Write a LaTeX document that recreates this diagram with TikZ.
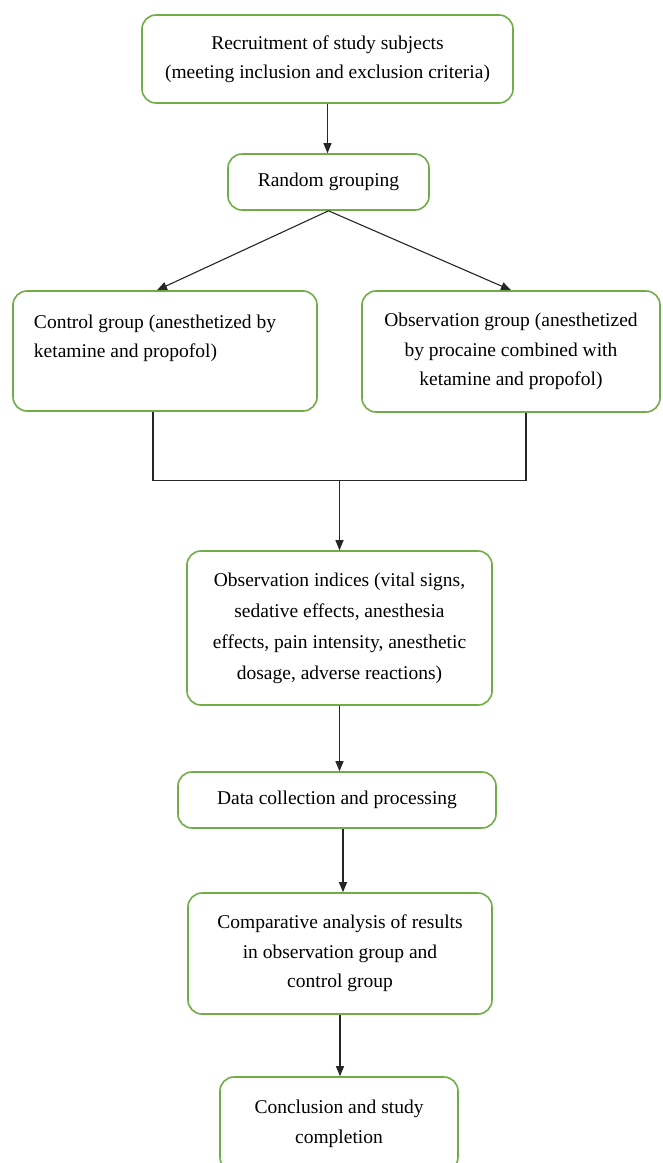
\documentclass[tikz,border=0pt]{standalone}
\usepackage{fontspec}
\setmainfont{Liberation Serif}
\usepackage{tikz}
\usetikzlibrary{shapes,arrows.meta}
\definecolor{boxgreen}{RGB}{112,173,71}
\tikzstyle{block} = [rectangle, draw=boxgreen, line width=1.6pt, rounded corners=14pt,
    align=center, inner sep=0pt, font=\fontsize{19.5}{29.5}\selectfont]
\tikzstyle{line} = [draw, line width=1.1pt, color=black!85, -{Triangle[length=10pt,width=8pt]}]
\tikzstyle{wire} = [draw, line width=1.1pt, color=black!85]

\begin{document}
\begin{tikzpicture}[x=1pt, y=-1pt, node distance=120pt]
    \useasboundingbox (0,0) rectangle (662,1163);
    % Place nodes
    \node [block, minimum width=371pt, minimum height=88pt] (recruit) at (327.5,59)
    {Recruitment of study subjects\\(meeting inclusion and exclusion criteria)};
    \node [block, below of=recruit, node distance=123pt, xshift=1pt,
      minimum width=201pt, minimum height=56pt] (grouping) {Random grouping};
    \node [block, below of=grouping, node distance=169pt, xshift=-163.5pt,
      minimum height=120pt, align=flush left, text width=262pt, inner xsep=21pt] (control)
    {Control group (anesthetized by\\ketamine and propofol)\\\mbox{}};
    \node [block, below of=grouping, node distance=169.5pt, xshift=182.5pt,
      minimum width=298pt, minimum height=121pt] (obsgroup)
    {Observation group (anesthetized\\by procaine combined with\\ketamine and propofol)};
    \node [block, below of=grouping, node distance=446pt, xshift=11pt,
      minimum width=305pt, minimum height=154pt, font=\fontsize{19.5}{31}\selectfont] (indices)
    {Observation indices (vital signs,\\sedative effects, anesthesia\\effects, pain intensity, anesthetic\\dosage, adverse reactions)};
    \node [block, below of=indices, node distance=172pt, xshift=-2.5pt,
      minimum width=318pt, minimum height=56pt] (data) {Data collection and processing};
    \node [block, below of=data, node distance=153.5pt, xshift=3pt,
      minimum width=304pt, minimum height=121pt] (compare)
    {Comparative analysis of results\\in observation group and\\control group};
    \node [block, below of=compare, node distance=170.5pt, xshift=-1pt,
      minimum width=238pt, minimum height=94pt] (conclusion)
    {Conclusion and study\\completion};

    % Draw edges
    \path [line] (recruit) -- (recruit |- grouping.north);
    \path [line] (grouping.south) -- ([xshift=-8pt]control.north);
    \path [line] (grouping.south) -- (obsgroup.north);
    % joining the two groups
    \path (control.south) ++(0,69) coordinate (jy);
    \coordinate (join) at (jy -| indices.north);
    \path [wire] ([xshift=-12pt]control.south) |- (join) -| ([xshift=15pt]obsgroup.south);
    \path [line] (join) -- (join |- indices.north);
    \path [line] (indices) -- (indices |- data.north);
    \path [line] ([xshift=6pt]data.south) -- ([xshift=6pt]data.south |- compare.north);
    \path [line] (compare) -- (compare |- conclusion.north);
\end{tikzpicture}
\end{document}
